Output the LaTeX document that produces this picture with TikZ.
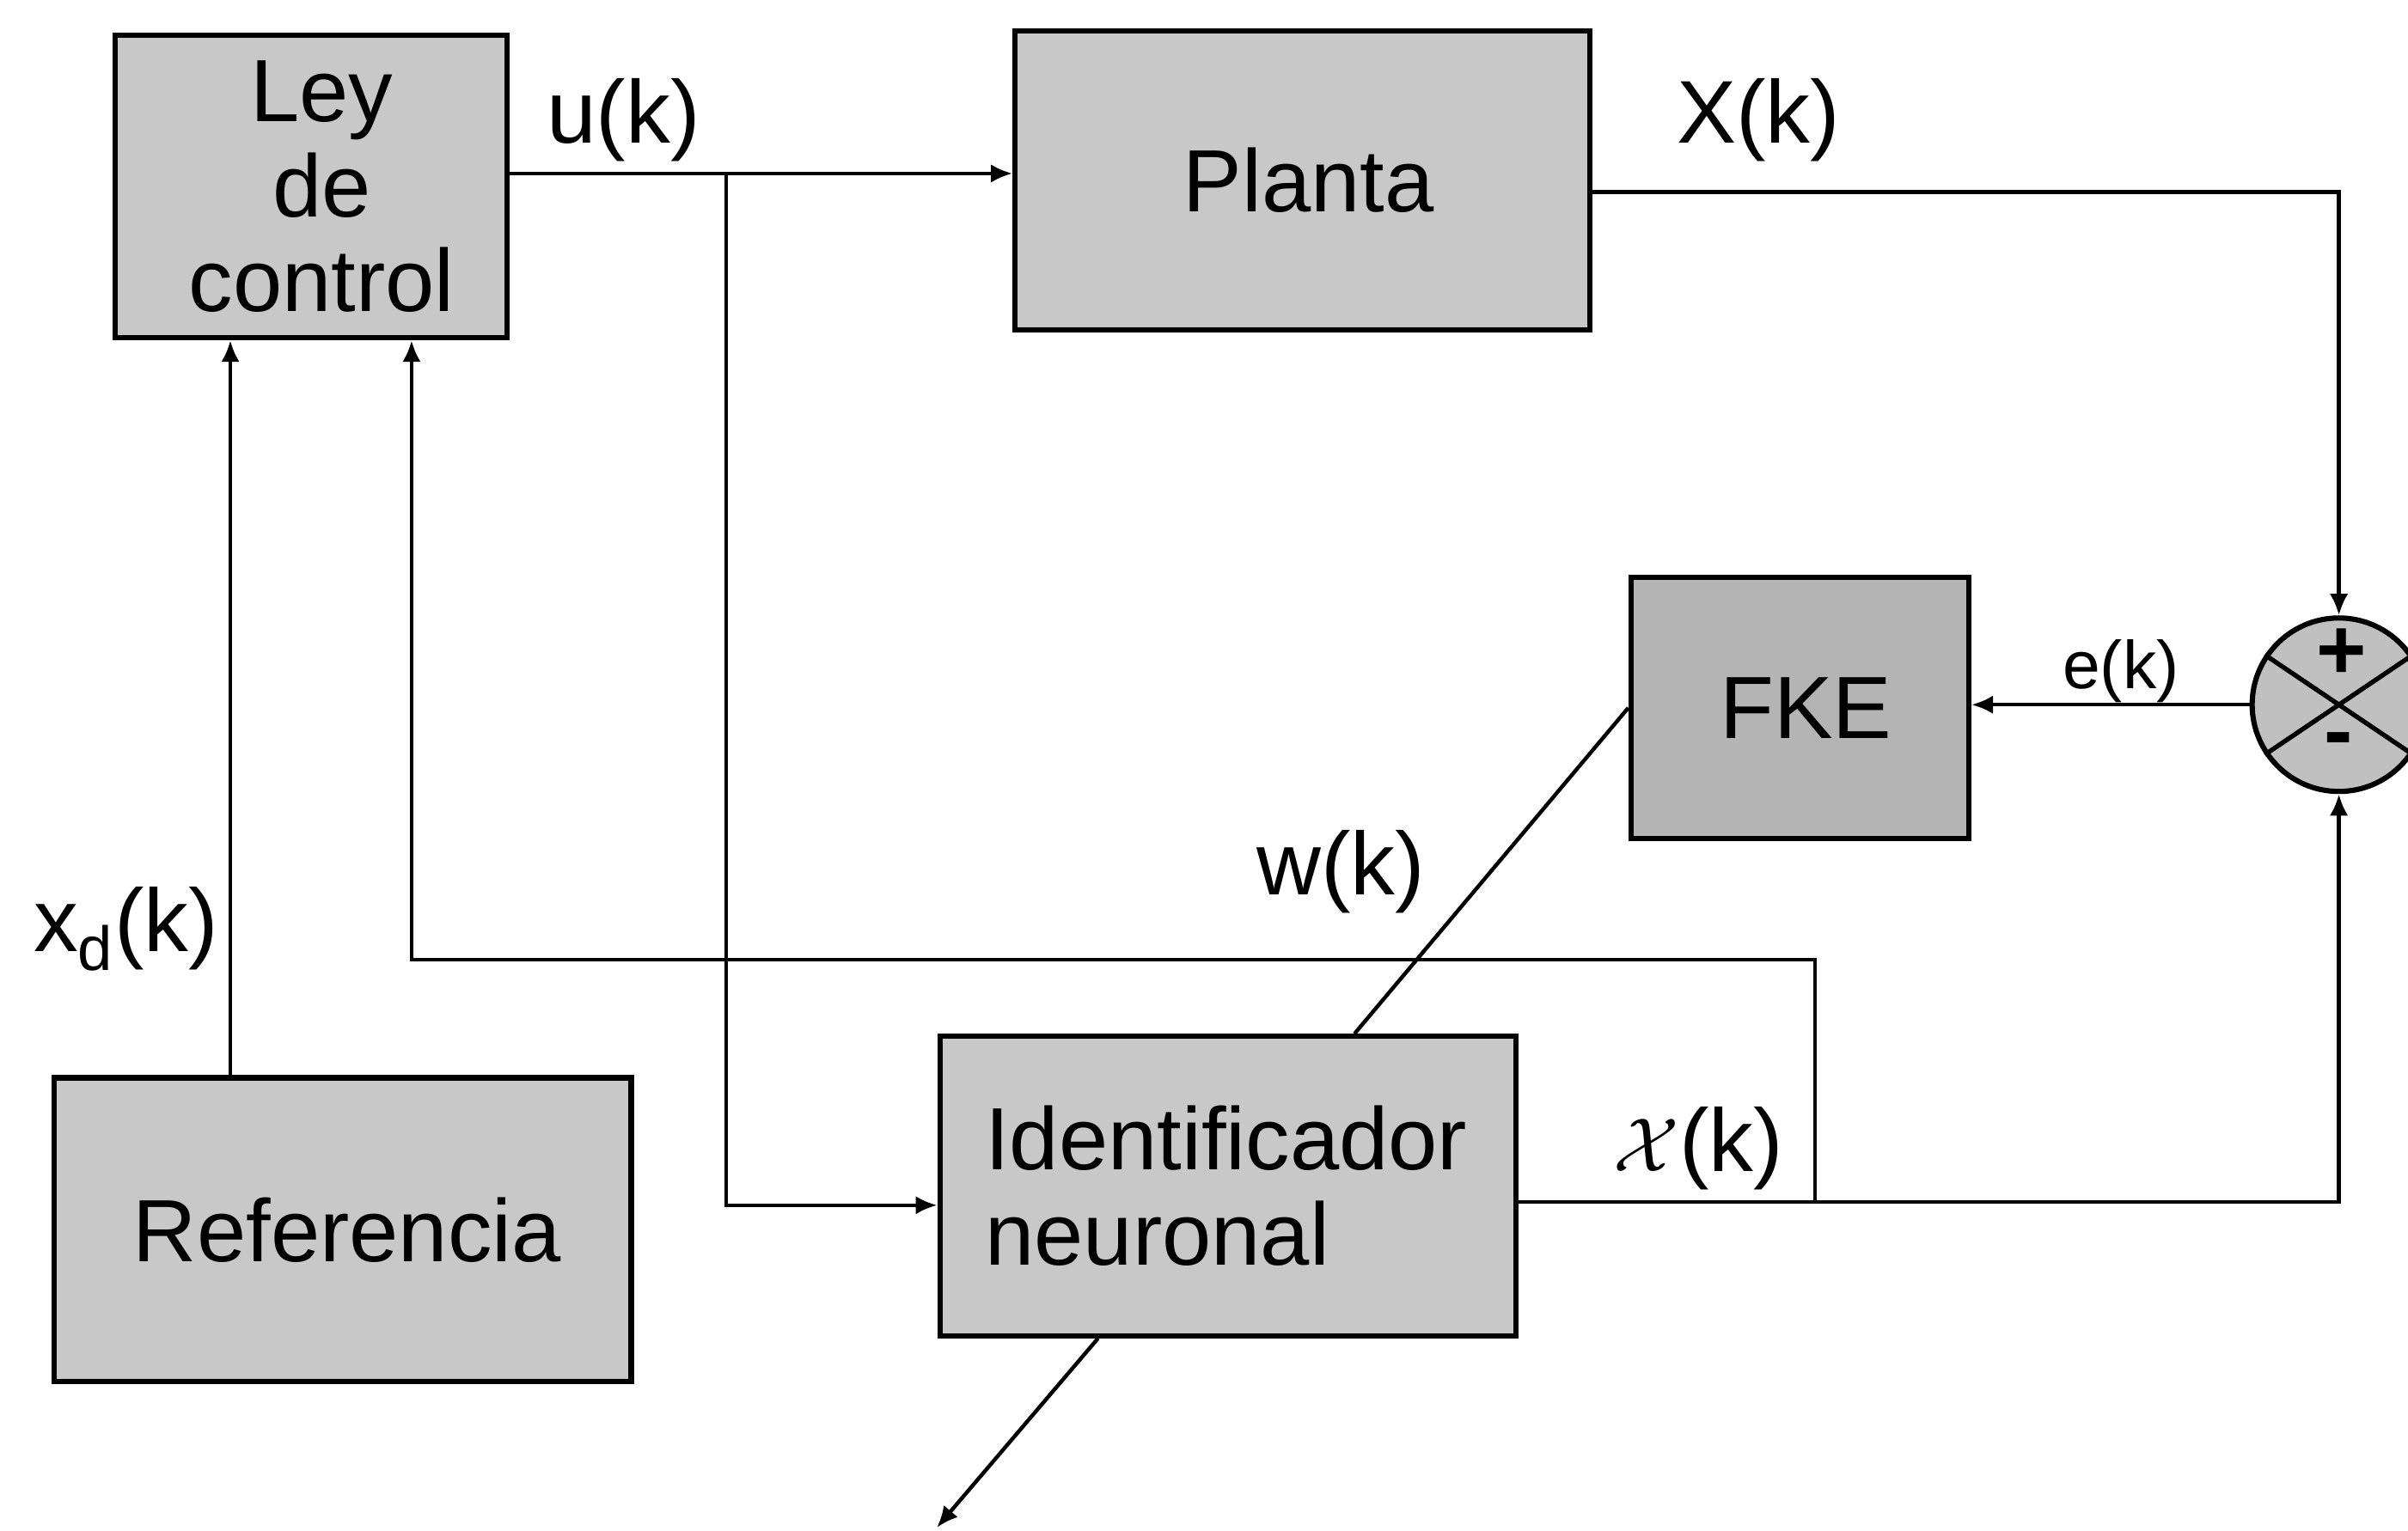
\documentclass[tikz,border=0pt]{standalone}
\usepackage{fontspec}
\setmainfont{Liberation Sans}
\usetikzlibrary{arrows.meta,calc}
\definecolor{boxgray}{RGB}{200,200,200}
\definecolor{fkegray}{RGB}{180,180,180}
\definecolor{sumgray}{RGB}{192,192,192}
\tikzset{
  blk/.style={draw=black, line width=1.7pt, fill=boxgray, inner sep=0pt,
    font=\fontsize{28.8}{31}\selectfont, align=center},
  sig/.style={line width=1.25pt, draw=black},
  arr/.style={sig, -{Latex[length=7pt,width=6pt]}},
  lbl/.style={font=\fontsize{29}{32}\selectfont, inner sep=0pt},
  smalllbl/.style={font=\fontsize{22}{24}\selectfont, inner sep=0pt}
}
\begin{document}
\begin{tikzpicture}[x=0.5pt, y=-0.5pt]
\useasboundingbox (0,0) rectangle (1568,997);

% blocks
\node[blk, minimum width=127.5pt, minimum height=98.5pt] (ley) at (202.5,121.5) {};
\node[font=\fontsize{28.8}{31}\selectfont, align=center, inner sep=0pt] (leytxt)
  at (ley.center) [xshift=3.5pt] {Ley\\de\\control};
\node[blk, minimum width=187pt, minimum height=97.5pt] (planta) at (848,117.5)
  {\hspace*{4pt}Planta};
\node[blk, fill=fkegray, minimum width=110pt, minimum height=85pt] (fke) at (1172,461)
  {\hspace*{4pt}FKE};
\node[blk, minimum width=187.5pt, minimum height=97.5pt, align=left, text width=158pt]
  (ident) at (799.5,772.5) {Identificador\\neuronal};
\node[blk, minimum width=188pt, minimum height=99pt] (ref) at (223,801)
  {\hspace*{3pt}Referencia};

% summing junction
\node[circle, draw=black, line width=1.7pt, fill=sumgray, minimum size=56.5pt,
  inner sep=0pt] (sum) at (1523,459) {};
\draw[line width=1.5pt] (sum.146) -- (sum.326);
\draw[line width=1.5pt] (sum.214) -- (sum.34);
\node[font=\fontsize{28}{28}\selectfont\bfseries, inner sep=0pt] (plus) at (1525,426) {+};
\node[font=\fontsize{28}{28}\selectfont\bfseries, inner sep=0pt] (minus) at (1523,486) {-};

% helper coordinates
\coordinate (uy) at (0,113);
\coordinate (ub) at (473,113);
\coordinate (iy) at (0,785);
\coordinate (py) at (0,125);
\coordinate (oy) at (0,783);
\coordinate (fb) at (1182,783);
\coordinate (fc) at (268,625);
\coordinate (xr) at (150,0);
\coordinate (wi) at (882,0);
\coordinate (wo) at (715,0);
\coordinate (tail) at (610,995);

% connectors
\draw[arr] (ley.east |- uy) -- (planta.west |- uy);
\draw[arr] (ub) |- (ident.west |- iy);
\draw[arr] (planta.east |- py) -| (sum.north);
\draw[arr] (ident.east |- oy) -| (sum.south);
\draw[arr] (sum.west) -- (sum.west -| fke.east);
\draw[arr] (fb) |- (fc) -- (fc |- ley.south);
\draw[arr] (ref.north -| xr) -- (ley.south -| xr);
\draw[sig] (fke.west) -- (ident.north -| wi);
\draw[arr] (ident.south -| wo) -- (tail);

% signal labels
\node[lbl] (lu) at (406,78) {u(k)};
\node[lbl] (lx) at (1145,78) {X(k)};
\node[smalllbl] (le) at (1381,437) {e(k)};
\node[lbl] (lw) at (873,568) {w(k)};
\node[lbl] (lchi) at (1106,748) {$\mathcal{X}$(k)};
\node[lbl] (lxd) at (82,605) {x\textsubscript{d}(k)};
\end{tikzpicture}
\end{document}
